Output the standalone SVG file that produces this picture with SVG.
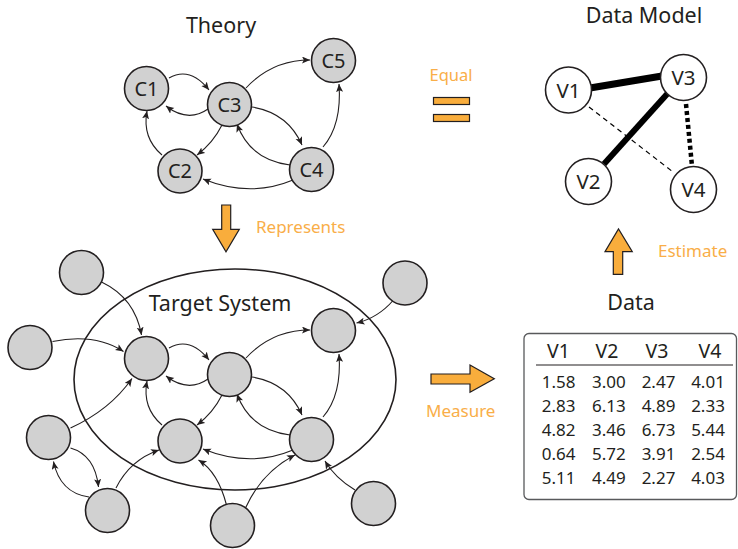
<svg xmlns="http://www.w3.org/2000/svg" width="738" height="549" viewBox="0 0 738 549">
<style>
.t{font-family:"Noto Sans","Open Sans","Liberation Sans",sans-serif;fill:#231f20}
.o{font-family:"Noto Sans","Open Sans","Liberation Sans",sans-serif;fill:#f9ae48}
.n{fill:#d1d1d1;stroke:#231f20;stroke-width:1.6}
.w{fill:#fff;stroke:#231f20;stroke-width:1.6}
.e{fill:none;stroke:#231f20;stroke-width:1.1;marker-end:url(#ah)}
.arr{fill:#f9ad3c;stroke:#231f20;stroke-width:1.2;stroke-linejoin:miter}
</style>
<defs>
<marker id="ah" markerUnits="userSpaceOnUse" markerWidth="10" markerHeight="8" refX="8" refY="3.5" orient="auto">
<path d="M0,0 L8,3.5 L0,7 L1.8,3.5 z" fill="#231f20"/>
</marker>
</defs>
<rect width="738" height="549" fill="#fff"/>

<text class="t" x="221" y="33" font-size="21.5" text-anchor="middle">Theory</text>
<text class="t" x="644" y="23" font-size="21.5" text-anchor="middle">Data Model</text>
<text class="t" x="220" y="311" font-size="21.5" text-anchor="middle">Target System</text>
<text class="t" x="631" y="310" font-size="21.5" text-anchor="middle">Data</text>

<g id="connectors">
<!-- theory -->
<path class="e" d="M169,78 Q190,66 209,90"/>
<path class="e" d="M208,109 Q188,123 166,106"/>
<path class="e" d="M246,88 Q272,60 310,60"/>
<path class="e" d="M222,125 Q213,143 197,155"/>
<path class="e" d="M252,107 Q288,113 302,145"/>
<path class="e" d="M290,165 Q250,160 237,124"/>
<path class="e" d="M293,180 Q250,198 203,179"/>
<path class="e" d="M162,155 Q142,138 147,111"/>
<path class="e" d="M323,147 Q342,125 339,84"/>
<!-- target system -->
<path class="e" d="M169,348 Q190,336 209,360"/>
<path class="e" d="M208,379 Q188,393 166,376"/>
<path class="e" d="M246,358 Q272,330 310,330"/>
<path class="e" d="M222,395 Q213,413 197,425"/>
<path class="e" d="M252,377 Q288,383 302,415"/>
<path class="e" d="M290,435 Q250,430 237,394"/>
<path class="e" d="M293,450 Q250,468 203,449"/>
<path class="e" d="M162,425 Q142,408 147,381"/>
<path class="e" d="M323,417 Q342,395 339,354"/>
<path class="e" d="M101.5,282 Q135,298 141.5,335"/>
<path class="e" d="M52.5,341.5 Q95,333 123.5,351.5"/>
<path class="e" d="M393.5,300 Q378,318 356.5,323"/>
<path class="e" d="M70.5,428 Q110,410 132,378.5"/>
<path class="e" d="M70.5,448 Q95,455 98.5,487"/>
<path class="e" d="M89,497 Q60,493 53.5,461.5"/>
<path class="e" d="M116,488 Q130,460 159,450"/>
<path class="e" d="M226.5,505 Q218,472 198.5,460"/>
<path class="e" d="M246,507 Q262,472 295,455"/>
<path class="e" d="M355,490 Q335,478 325,461"/>
<!-- data model -->
<line x1="590" y1="88" x2="662" y2="76" stroke="#000" stroke-width="7"/>
<line x1="668" y1="93" x2="604" y2="164" stroke="#000" stroke-width="6"/>
<line x1="589" y1="107" x2="673" y2="172" stroke="#000" stroke-width="1.2" stroke-dasharray="5,4"/>
<line x1="686" y1="104" x2="692" y2="166" stroke="#000" stroke-width="4.5" stroke-dasharray="4,3"/>
</g>

<g id="theory-C1"><circle class="n" cx="146.5" cy="88.5" r="22"/><text class="t" x="146.5" y="95.5" font-size="20" text-anchor="middle">C1</text></g>
<g id="theory-C3"><circle class="n" cx="229.5" cy="104.5" r="22"/><text class="t" x="229.5" y="111.5" font-size="20" text-anchor="middle">C3</text></g>
<g id="theory-C5"><circle class="n" cx="333.5" cy="60.5" r="22"/><text class="t" x="333.5" y="67.5" font-size="20" text-anchor="middle">C5</text></g>
<g id="theory-C2"><circle class="n" cx="180" cy="171" r="22"/><text class="t" x="180" y="178" font-size="20" text-anchor="middle">C2</text></g>
<g id="theory-C4"><circle class="n" cx="311.5" cy="169.5" r="22"/><text class="t" x="311.5" y="176.5" font-size="20" text-anchor="middle">C4</text></g>

<g id="dm-V1"><circle class="w" cx="568.5" cy="90" r="23"/><text class="t" x="568.5" y="97.5" font-size="20.5" text-anchor="middle">V1</text></g>
<g id="dm-V3"><circle class="w" cx="683.5" cy="77.5" r="23"/><text class="t" x="683.5" y="85" font-size="20.5" text-anchor="middle">V3</text></g>
<g id="dm-V2"><circle class="w" cx="588.5" cy="181.5" r="23"/><text class="t" x="588.5" y="189" font-size="20.5" text-anchor="middle">V2</text></g>
<g id="dm-V4"><circle class="w" cx="693.5" cy="189.5" r="23"/><text class="t" x="693.5" y="197" font-size="20.5" text-anchor="middle">V4</text></g>

<g id="target-system">
<ellipse cx="235" cy="379.5" rx="161" ry="110.5" fill="none" stroke="#231f20" stroke-width="1.6"/>
</g>
<g id="ts-A"><circle class="n" cx="146.5" cy="358.5" r="22"/></g>
<g id="ts-B"><circle class="n" cx="229.5" cy="374.5" r="22"/></g>
<g id="ts-C"><circle class="n" cx="333.5" cy="330.5" r="22"/></g>
<g id="ts-D"><circle class="n" cx="180" cy="441" r="22"/></g>
<g id="ts-E"><circle class="n" cx="311.5" cy="439.5" r="22"/></g>
<g id="ts-out1"><circle class="n" cx="81.5" cy="272.5" r="22"/></g>
<g id="ts-out2"><circle class="n" cx="30" cy="347.5" r="22"/></g>
<g id="ts-out3"><circle class="n" cx="405" cy="283" r="22"/></g>
<g id="ts-out4"><circle class="n" cx="48.5" cy="437.5" r="22"/></g>
<g id="ts-out5"><circle class="n" cx="107.5" cy="510.5" r="22"/></g>
<g id="ts-out6"><circle class="n" cx="232.5" cy="525.5" r="22"/></g>
<g id="ts-out7"><circle class="n" cx="373.5" cy="503.5" r="22"/></g>

<g id="equal">
<text class="o" x="451" y="81" font-size="16.5" text-anchor="middle">Equal</text>
<rect class="arr" x="433.5" y="97.5" width="36" height="7"/>
<rect class="arr" x="433.5" y="114.5" width="36" height="7"/>
</g>
<g id="represents">
<path class="arr" d="M221.7,205 L230.7,205 L230.7,229.3 L239.3,229.3 L226,251.7 L212.7,229.3 L221.7,229.3 Z"/>
<text class="o" x="256" y="233" font-size="17">Represents</text>
</g>
<g id="estimate">
<path class="arr" d="M613.3,274.3 L622.7,274.3 L622.7,251.7 L632.3,251.7 L618.5,229 L605,251.7 L613.3,251.7 Z"/>
<text class="o" x="658" y="257" font-size="17">Estimate</text>
</g>
<g id="measure">
<path class="arr" d="M431,374 L470,374 L470,365 L494.3,378.7 L470,392.3 L470,384 L431,384 Z"/>
<text class="o" x="426" y="417" font-size="17">Measure</text>
</g>

<g id="data-table">
<rect x="524" y="333.5" width="212.5" height="166" rx="5" fill="#fff" stroke="#58595b" stroke-width="1.3"/>
<line x1="536" y1="365" x2="733" y2="365" stroke="#231f20" stroke-width="1.2"/>
<g class="t" font-size="19.5" text-anchor="middle">
<text x="558.5" y="358">V1</text><text x="607" y="358">V2</text><text x="657" y="358">V3</text><text x="710" y="358">V4</text>
</g>
<g class="t" font-size="17" text-anchor="middle">
<text x="558.7" y="388">1.58</text><text x="608.8" y="388">3.00</text><text x="658.5" y="388">2.47</text><text x="708" y="388">4.01</text>
<text x="558.7" y="412">2.83</text><text x="608.8" y="412">6.13</text><text x="658.5" y="412">4.89</text><text x="708" y="412">2.33</text>
<text x="558.7" y="436">4.82</text><text x="608.8" y="436">3.46</text><text x="658.5" y="436">6.73</text><text x="708" y="436">5.44</text>
<text x="558.7" y="460">0.64</text><text x="608.8" y="460">5.72</text><text x="658.5" y="460">3.91</text><text x="708" y="460">2.54</text>
<text x="558.7" y="484">5.11</text><text x="608.8" y="484">4.49</text><text x="658.5" y="484">2.27</text><text x="708" y="484">4.03</text>
</g>
</g>
</svg>
